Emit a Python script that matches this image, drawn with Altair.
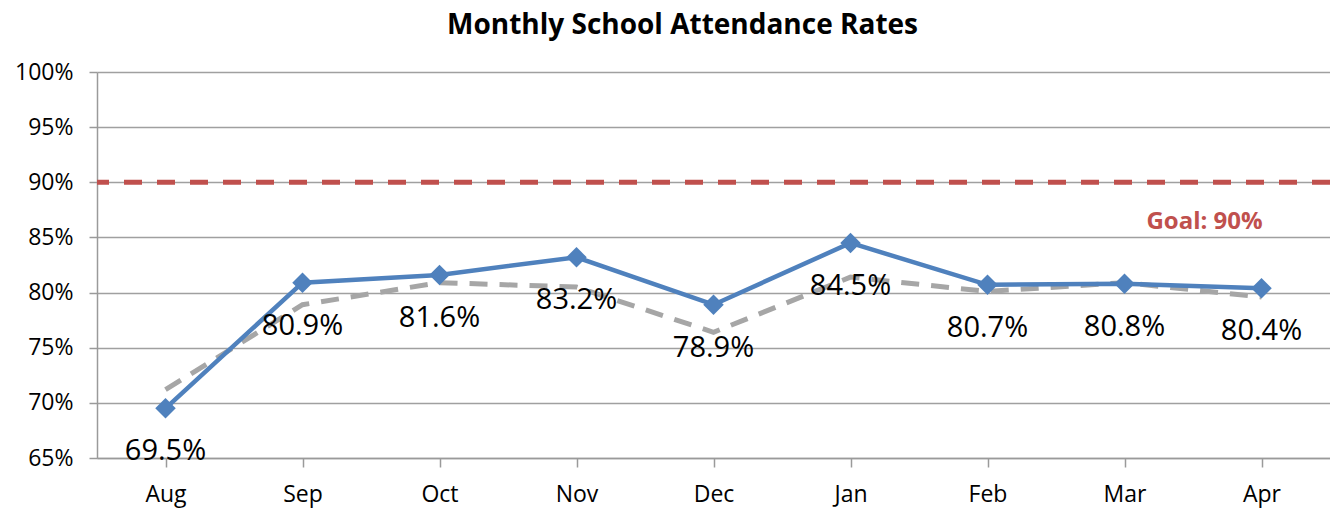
import altair as alt
import pandas as pd

months = ["Aug", "Sep", "Oct", "Nov", "Dec", "Jan", "Feb", "Mar", "Apr"]
current = [69.5, 80.9, 81.6, 83.2, 78.9, 84.5, 80.7, 80.8, 80.4]
previous = [71.2, 78.9, 80.9, 80.5, 76.4, 81.4, 80.1, 80.9, 79.6]
goal_value = 90
goal_text = "Goal: 90%"
y_ticks = [65, 70, 75, 80, 85, 90, 95, 100]

FONT = "Open Sans"

df = pd.DataFrame({"month": months, "current": current, "previous": previous})
df["label"] = [f"{v:.1f}%" for v in current]
goal_df = pd.DataFrame({"month": ["Apr"], "goal": [goal_value], "text": [goal_text]})

x_enc = alt.X(
    "month:N",
    sort=months,
    scale=alt.Scale(domain=months, paddingInner=0, paddingOuter=0),
    axis=alt.Axis(
        title=None,
        bandPosition=0,
        labelFontSize=23,
        labelColor="#000000",
        labelFont=FONT,
        labelPadding=16,
        tickSize=9,
        tickColor="#9a9a9a",
        tickWidth=1.5,
        domainColor="#9a9a9a",
        domainWidth=1.5,
        labelAngle=0,
        grid=False,
    ),
)

y_scale = alt.Scale(domain=[65, 100], nice=False, zero=False)
y_axis = alt.Axis(
    title=None,
    values=y_ticks,
    labelExpr="datum.value + '%'",
    labelFontSize=23,
    labelFont=FONT,
    labelColor="#000000",
    labelPadding=16,
    tickSize=8,
    tickColor="#9a9a9a",
    tickWidth=1.5,
    domainColor="#9a9a9a",
    domainWidth=1.5,
    grid=True,
    gridColor="#a0a0a0",
    gridWidth=1.5,
)

base = alt.Chart(df)

prev_line = base.mark_line(
    color="#a6a6a6", strokeWidth=5, strokeDash=[18, 12]
).encode(x=x_enc, y=alt.Y("previous:Q", scale=y_scale, axis=y_axis))

goal_rule = alt.Chart(goal_df).mark_rule(
    color="#c0504d", strokeWidth=5, strokeDash=[18, 15]
).encode(y=alt.Y("goal:Q", scale=y_scale))

goal_label = alt.Chart(goal_df).mark_text(
    color="#c0504d", fontSize=24, fontWeight="bold", font=FONT, dx=-57, dy=40,
    baseline="middle"
).encode(x=alt.X("month:N", sort=months), y=alt.Y("goal:Q", scale=y_scale), text="text:N")

cur_line = base.mark_line(color="#4f81bd", strokeWidth=4.5).encode(
    x=alt.X("month:N", sort=months), y=alt.Y("current:Q", scale=y_scale)
)

cur_pts = base.mark_point(
    shape="diamond", filled=True, size=420, color="#4f81bd", opacity=1
).encode(x=alt.X("month:N", sort=months), y=alt.Y("current:Q", scale=y_scale))

labels = base.mark_text(
    fontSize=29, font=FONT, color="#000000", dy=43, baseline="middle"
).encode(x=alt.X("month:N", sort=months), y=alt.Y("current:Q", scale=y_scale), text="label:N")

chart = alt.layer(prev_line, goal_rule, cur_line, cur_pts, labels, goal_label).properties(
    width=1233,
    height=386,
    title=alt.TitleParams(
        "Monthly School Attendance Rates",
        font=FONT,
        fontSize=28,
        fontWeight="bold",
        color="#000000",
        anchor="middle",
        dx=-31,
        offset=21,
    ),
    autosize=alt.AutoSizeParams(type="none"),
    padding={"left": 89, "top": 64, "right": 0, "bottom": 50},
).configure_view(stroke=None)

chart.save("out.html", embed_options={"renderer": "svg", "actions": False})
